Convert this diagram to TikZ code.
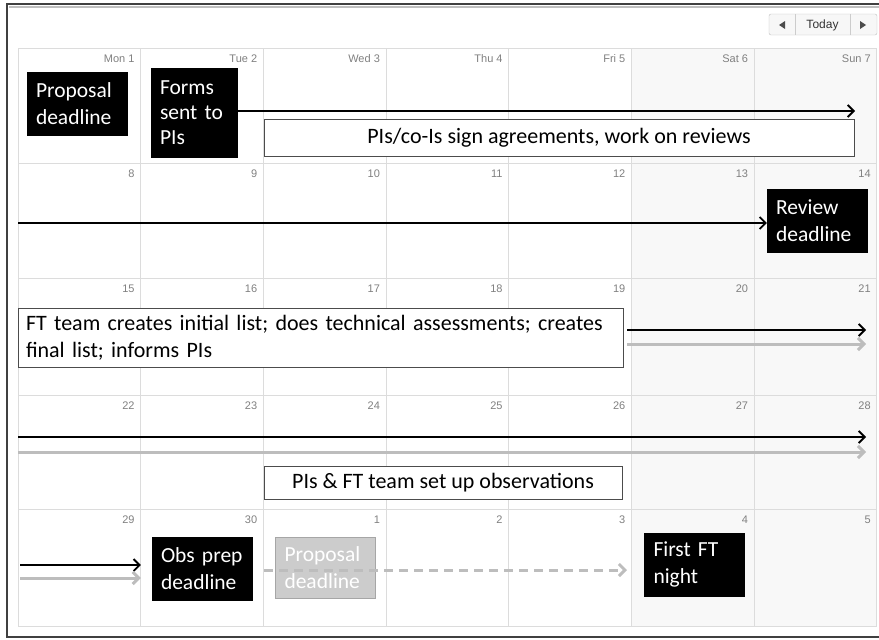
\documentclass[tikz,border=0pt]{standalone}
\usepackage{fontspec}
\setmainfont{Carlito}
\newfontfamily\uifont{Liberation Sans}
\usepackage{tikz}
\usetikzlibrary{positioning,arrows.meta}
\definecolor{gridgray}{HTML}{DCDCDC}
\definecolor{wkendgray}{HTML}{F8F8F8}
\definecolor{daygray}{HTML}{808080}
\definecolor{ghostgray}{HTML}{BDBDBD}
\definecolor{boxgray}{HTML}{CCCCCC}

\begin{document}
\begin{tikzpicture}[
    x=1pt, y=-1pt,
    >={Straight Barb[length=6pt,width=12pt]},
    gridline/.style={draw=gridgray, line width=1pt},
    daylabel/.style={font=\uifont\fontsize{11}{13}\selectfont, text=daygray,
inner sep=0pt, anchor=base east},
    deadline/.style={draw=black, fill=black, text=white, align=left,
font=\fontsize{21.5}{27}\selectfont, inner xsep=9pt, inner ysep=0pt,
minimum width=100pt, minimum height=63pt, text width=82pt},
    taskbox/.style={draw=black!70, fill=white, line width=0.8pt,
font=\fontsize{22}{27}\selectfont, inner xsep=8pt, inner ysep=0pt},
    ghostbox/.style={deadline, draw=black!35, fill=boxgray, line width=0.8pt},
    blackline/.style={->, line width=1.8pt, black},
    greyline/.style={->, line width=3pt, ghostgray}]

    \useasboundingbox (0,0) rectangle (879,640);

    % page frame
    \draw[black!75, line width=1.5pt] (879,637) -- (7,637) -- (7,4) -- (879,4);
    \draw[black!25, line width=2pt] (9,7) -- (879,7);

    % navigation
    \draw[black!25, fill=black!3, rounded corners=2pt] (769,14) rectangle (877,35);
    \draw[black!20] (795,14) -- (795,35) (850,14) -- (850,35);
    \node[font=\uifont\fontsize{12}{14}\selectfont, text=black!80] (today) at (822.5,25) {Today};
    \fill[black!70] (779,25) -- (785,21) -- (785,29) -- cycle;
    \fill[black!70] (866,25) -- (860,21) -- (860,29) -- cycle;

    % month grid
    \fill[wkendgray] ({18+5*122.7},48) rectangle (877,626);
    \foreach \y in {48,163,278,395,509,626}
        \draw[gridline] (18,\y) -- (877,\y);
    \foreach \i in {0,...,7}
        \draw[gridline] ({18+122.7*\i},48) -- ({18+122.7*\i},626);

    \foreach \lab [count=\i from 1] in {Mon 1,Tue 2,Wed 3,Thu 4,Fri 5,Sat 6,Sun 7}
        \node[daylabel] (head\i) at ({18+122.7*\i-6},62) {\lab};
    \foreach \top/\first in {163/8,278/15,395/22}
        \foreach \i in {1,...,7} {
            \pgfmathtruncatemacro\d{\first+\i-1}
            \node[daylabel] (day\d) at ({18+122.7*\i-6},\top+14) {\d};
        }
    \foreach \lab [count=\i from 1] in {29,30,1,2,3,4,5}
        \node[daylabel] (last\i) at ({18+122.7*\i-6},523) {\lab};

    % week 1
    \node[deadline] (propdead) at (77,103.5) {Proposal\\deadline};
    \node[deadline, minimum width=84pt, minimum height=89pt, text width=68pt,
font=\fontsize{21.5}{25}\selectfont] (forms) at (194,112.5) {Forms\\sent to\\PIs};
    \node[taskbox, minimum width=590pt, minimum height=37pt]
        (sign) at (559,137.5) {PIs/co-Is sign agreements, work on reviews};
    \coordinate (signend) at (855,111);
    \draw[blackline] (forms.east |- signend) -- (signend);

    % week 2
    \node[deadline] (review) at (817,220.5) {Review\\deadline};
    \coordinate (revstart) at (18,223);
    \draw[blackline] (revstart) -- (review.west |- revstart);

    % week 3
    \node[taskbox, minimum width=605pt, minimum height=59pt, text width=589pt,
align=left] (ftlist) at (320.5,337.5)
        {FT team creates initial list; does technical assessments; creates\\final list; informs PIs};
    \coordinate (listend) at (866,330);
    \coordinate (listghost) at (866,344);
    \draw[blackline] ([xshift=4pt]ftlist.east |- listend) -- (listend);
    \draw[greyline] ([xshift=4pt]ftlist.east |- listghost) -- (listghost);

    % week 4
    \coordinate (setstart) at (18,437);
    \coordinate (setghost) at (18,452);
    \draw[blackline] (setstart) -- (866,437);
    \draw[greyline] (setghost) -- (866,452);
    \node[taskbox, minimum width=358pt, minimum height=33pt]
        (setup) at (443,482.5) {PIs \& FT team set up observations};

    % week 5
    \node[deadline] (obsprep) at (202,568.5) {Obs prep\\deadline};
    \node[ghostbox, minimum height=61pt] (ghostprop) at (325.5,567.5) {Proposal\\deadline};
    \node[deadline] (firstnight) at (694.5,564.5) {First FT\\night};
    \coordinate (prepstart) at (20,565);
    \coordinate (prepghost) at (20,578);
    \draw[blackline] (prepstart) -- ([xshift=-11pt]obsprep.west |- prepstart);
    \draw[greyline] (prepghost) -- ([xshift=-11pt]obsprep.west |- prepghost);
    \coordinate (ghoststart) at (264,570);
    \draw[greyline, dashed, dash pattern=on 9pt off 6pt] (ghoststart) -- (627,570);
\end{tikzpicture}
\end{document}
